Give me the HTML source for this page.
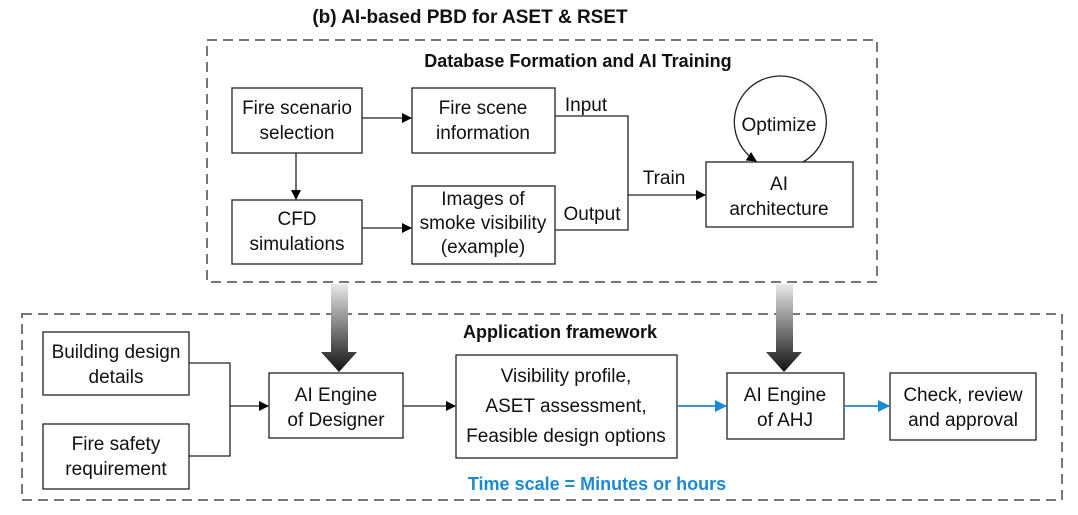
<!DOCTYPE html>
<html><head><meta charset="utf-8"><style>
html,body{margin:0;padding:0;background:#fff;}
svg text{font-family:"Liberation Sans",Arial,sans-serif;fill:#111;}
</style></head><body>
<svg width="1078" height="510" viewBox="0 0 1078 510" xmlns="http://www.w3.org/2000/svg">
<defs>
<marker id="ab" markerWidth="10" markerHeight="10" refX="9" refY="5" orient="auto" markerUnits="userSpaceOnUse"><path d="M0,0 L10,5 L0,10 z" fill="#000"/></marker>
<marker id="abl" markerWidth="12" markerHeight="12" refX="11" refY="6" orient="auto" markerUnits="userSpaceOnUse"><path d="M0,0 L12,6 L0,12 z" fill="#1a8ad4"/></marker>
<linearGradient id="g" x1="0" y1="0" x2="0" y2="1"><stop offset="0" stop-color="#e8e8e8"/><stop offset="1" stop-color="#111"/></linearGradient>
</defs>
<text x="470" y="23" font-size="19" font-weight="bold" text-anchor="middle">(b) AI-based PBD for ASET &amp; RSET</text>
<rect x="207" y="40" width="670" height="242" fill="none" stroke="#777" stroke-width="2" stroke-dasharray="10,6"/>
<text x="578" y="67" font-size="18" font-weight="bold" text-anchor="middle">Database Formation and AI Training</text>
<g fill="none" stroke="#222" stroke-width="1.3">
<rect x="232" y="88" width="130" height="65"/>
<rect x="412" y="88" width="143" height="65"/>
<rect x="232" y="200" width="130" height="64"/>
<rect x="412" y="186" width="143" height="78"/>
<rect x="706" y="162" width="147" height="65"/>
<path d="M555,116 H628 V230 H555"/>
<path d="M628,195 H705" marker-end="url(#ab)"/>
<path d="M362,118 H411" marker-end="url(#ab)"/>
<path d="M362,228 H411" marker-end="url(#ab)"/>
<path d="M296,153 V199" marker-end="url(#ab)"/>
<path d="M803,162 A46,46 0 1 0 756,161" marker-end="url(#ab)"/>
</g>
<g font-size="19" text-anchor="middle">
<text x="297" y="114">Fire scenario</text><text x="297" y="139">selection</text>
<text x="483" y="114">Fire scene</text><text x="483" y="139">information</text>
<text x="297" y="225">CFD</text><text x="297" y="250">simulations</text>
<text x="483" y="205">Images of</text><text x="483" y="229">smoke visibility</text><text x="483" y="253">(example)</text>
<text x="779" y="190">AI</text><text x="779" y="215">architecture</text>
<text x="779" y="131">Optimize</text>
<text x="586" y="111">Input</text><text x="592" y="220">Output</text><text x="664" y="184">Train</text>
</g>
<rect x="22" y="314" width="1040" height="186" fill="none" stroke="#777" stroke-width="2" stroke-dasharray="10,6"/>
<path d="M331,284 H348 V352 H357 L339,372 L321,352 H331 z" fill="url(#g)"/>
<path d="M776,284 H793 V352 H802 L784,372 L766,352 H776 z" fill="url(#g)"/>
<text x="560" y="338" font-size="18" font-weight="bold" text-anchor="middle">Application framework</text>
<g fill="none" stroke="#222" stroke-width="1.3">
<rect x="43" y="332" width="146" height="63"/>
<rect x="43" y="424" width="146" height="65"/>
<rect x="269" y="373" width="134" height="65"/>
<rect x="456" y="355" width="221" height="103"/>
<rect x="727" y="373" width="117" height="66"/>
<rect x="890" y="373" width="146" height="67"/>
<path d="M189,363 H230 V456 H189"/>
<path d="M230,406 H268" marker-end="url(#ab)"/>
<path d="M403,406 H455" marker-end="url(#ab)"/>
</g>
<g fill="none" stroke="#1a8ad4" stroke-width="1.8">
<path d="M677,406 H726" marker-end="url(#abl)"/>
<path d="M844,406 H889" marker-end="url(#abl)"/>
</g>
<g font-size="19" text-anchor="middle">
<text x="116" y="358">Building design</text><text x="116" y="383">details</text>
<text x="116" y="450">Fire safety</text><text x="116" y="475">requirement</text>
<text x="336" y="401">AI Engine</text><text x="336" y="426">of Designer</text>
<text x="566" y="382">Visibility profile,</text><text x="566" y="412">ASET assessment,</text><text x="566" y="442">Feasible design options</text>
<text x="785" y="401">AI Engine</text><text x="785" y="426">of AHJ</text>
<text x="963" y="401">Check, review</text><text x="963" y="426">and approval</text>
</g>
<text x="597" y="490" font-size="18" font-weight="bold" text-anchor="middle" style="fill:#1a8ad4">Time scale = Minutes or hours</text>
</svg>
</body></html>
